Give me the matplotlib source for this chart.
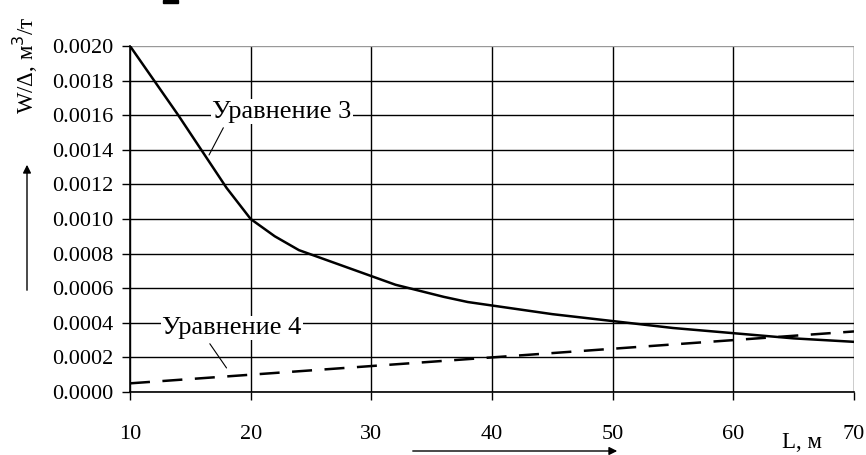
import numpy as np
from matplotlib import pyplot as plt

plt.rcParams['font.family'] = ['Liberation Serif', 'DejaVu Serif']

# curve values
L3 = [10, 12, 14, 16, 18, 20, 22, 24, 26, 28, 30, 32, 34, 36, 38, 40,
      45, 50, 55, 60, 65, 70]
W3 = [0.00200, 0.00180, 0.00160, 0.00139, 0.00118, 0.00100, 0.00090,
      0.00082, 0.00077, 0.00072, 0.00067, 0.00062, 0.000585, 0.00055,
      0.00052, 0.00050, 0.00045, 0.00041, 0.00037, 0.00034, 0.00031,
      0.00029]
L4 = [10, 20, 30, 40, 50, 60, 70]
W4 = [0.00005, 0.00010, 0.00015, 0.00020, 0.00025, 0.00030, 0.00035]

xticks = [10, 20, 30, 40, 50, 60, 70]
yticks = np.arange(0, 0.00201, 0.0002)

W, H = 866, 455
fig = plt.figure(figsize=(W/100, H/100), dpi=100)
ax = fig.add_axes([130/W, (H-392)/H, 724/W, 346/H])

ax.plot(L3, W3, color='black', lw=1.8, zorder=3)
ax.plot(L4, W4, color='black', lw=1.8, dashes=(8, 5), zorder=3)

ax.set_xlim(10, 70)
ax.set_ylim(0, 0.002)
ax.set_xticks(xticks)
ax.set_yticks(yticks)
ax.set_yticklabels([f"{v:.4f}" for v in yticks])
ax.tick_params(direction='out', length=6, width=1, labelsize=16, colors='black')
ax.tick_params(axis='x', pad=18)
ax.tick_params(axis='y', pad=6)
ax.grid(True, color='black', lw=1)
ax.get_ygridlines()[-1].set_color('#999999')
for s in ['top', 'right']:
    ax.spines[s].set_visible(False)
for s in ['left', 'bottom']:
    ax.spines[s].set_linewidth(1.2)

# callouts
ax.annotate("Уравнение 3", xy=(16.55, 0.00137), xytext=(16.8, 0.00162),
            fontsize=19, ha='left', va='center',
            bbox=dict(fc='white', ec='none', pad=1),
            arrowprops=dict(arrowstyle='-', color='black', lw=0.8, shrinkA=3, shrinkB=0,
                            relpos=(0.1, 0.0)))
ax.annotate("Уравнение 4", xy=(18.0, 0.000139), xytext=(12.65, 0.00037),
            fontsize=19, ha='left', va='center',
            bbox=dict(fc='white', ec='none', pad=1),
            arrowprops=dict(arrowstyle='-', color='black', lw=0.8, shrinkA=3, shrinkB=0,
                            relpos=(0.32, 0.0)))

fig.text(25/W, 1-65/H, "W/Δ, м$^3$/т", rotation=90, ha='center', va='center', fontsize=16.5)
fig.text(802/W, 1-443/H, "L, м", ha='center', va='center', fontsize=16.5)

# small mark at the top edge
fig.add_artist(plt.Rectangle((163/W, 1-3/H), 15/W, 3/H, transform=fig.transFigure,
                             color='black'))

ax.annotate("", xy=(27/W, 1-162/H), xytext=(27/W, 1-293/H), xycoords='figure fraction',
            arrowprops=dict(arrowstyle='-|>', color='black', lw=1, mutation_scale=12))
ax.annotate("", xy=(620/W, 1-451/H), xytext=(410/W, 1-451/H), xycoords='figure fraction',
            arrowprops=dict(arrowstyle='-|>', color='black', lw=1, mutation_scale=12))

fig.savefig("out.png", dpi=100)
